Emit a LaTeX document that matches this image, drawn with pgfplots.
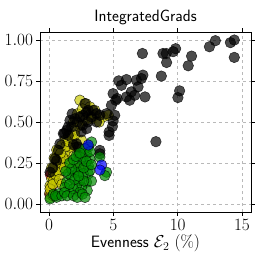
\documentclass[border=0pt]{standalone}
\usepackage{pgfplots}
\pgfplotsset{compat=1.18}
\usepackage{pgfplotstable}
\definecolor{myyellow}{rgb}{0.78,0.78,0}
\definecolor{mygreen}{rgb}{0,0.55,0}
\pgfplotstableread{
x y
0.10 0.18
0.05 0.06
2.30 0.22
0.15 0.10
}\redpts
\pgfplotstableread{
x y
2.40 0.633
2.87 0.612
3.18 0.592
3.56 0.541
4.21 0.531
4.60 0.541
3.05 0.541
2.79 0.510
2.40 0.480
2.01 0.449
1.63 0.418
1.24 0.388
0.98 0.357
0.72 0.316
0.59 0.286
0.72 0.245
0.46 0.235
0.34 0.194
0.21 0.153
0.08 0.071
0.08 0.112
0.59 0.133
0.98 0.204
1.37 0.265
1.76 0.306
2.14 0.347
2.53 0.388
1.24 0.316
1.63 0.347
0.85 0.286
1.50 0.245
0.34 0.143
0.08 0.092
3.56 0.571
0.30 0.120
0.50 0.180
0.70 0.200
0.90 0.250
1.10 0.280
1.30 0.350
1.50 0.380
1.80 0.400
2.00 0.420
0.40 0.280
0.60 0.330
0.90 0.310
1.20 0.220
0.20 0.220
1.90 0.500
2.20 0.550
2.60 0.580
3.30 0.520
3.90 0.500
0.10 0.040
0.30 0.050
0.80 0.150
1.00 0.120
}\yellowpts
\pgfplotstableread{
x y
12.93 0.996
12.47 0.959
14.10 0.984
14.40 1.000
14.40 0.894
11.08 0.902
10.82 0.843
9.84 0.947
9.65 0.929
9.11 0.918
8.86 0.918
9.14 0.863
7.26 0.918
8.73 0.780
10.15 0.690
10.02 0.649
8.31 0.380
7.46 0.653
7.30 0.786
7.18 0.765
6.02 0.759
5.42 0.751
5.63 0.724
6.79 0.755
6.92 0.714
6.66 0.663
6.40 0.684
6.02 0.653
6.27 0.633
5.29 0.643
4.98 0.673
5.19 0.633
4.85 0.602
5.11 0.541
4.98 0.506
4.93 0.473
4.67 0.439
4.67 0.418
3.95 0.306
3.95 0.327
4.47 0.551
3.95 0.541
3.69 0.551
3.43 0.571
3.05 0.571
2.79 0.612
2.66 0.541
2.40 0.531
2.01 0.520
1.63 0.510
1.37 0.449
1.11 0.429
0.85 0.367
0.72 0.327
0.46 0.276
0.08 0.194
2.14 0.367
2.27 0.347
1.50 0.418
1.76 0.469
2.92 0.459
0.59 0.265
1.80 0.550
2.20 0.500
2.60 0.480
3.00 0.500
3.30 0.530
1.50 0.470
1.20 0.430
2.90 0.560
3.70 0.500
0.30 0.220
2.50 0.440
1.90 0.360
2.30 0.300
}\blackpts
\pgfplotstableread{
x y
0.08 0.031
0.34 0.060
0.72 0.061
1.37 0.133
1.63 0.071
1.76 0.163
2.01 0.194
2.40 0.224
2.66 0.265
2.92 0.306
3.05 0.347
3.31 0.378
3.05 0.235
3.05 0.184
2.92 0.133
2.97 0.082
2.53 0.102
2.40 0.143
2.14 0.112
1.89 0.092
1.50 0.184
2.14 0.245
2.53 0.286
2.79 0.337
2.27 0.194
2.66 0.184
3.18 0.276
3.18 0.204
4.47 0.194
4.34 0.173
3.95 0.286
1.24 0.102
0.59 0.041
2.40 0.071
1.76 0.214
0.50 0.050
1.00 0.050
1.20 0.070
1.40 0.050
1.90 0.050
2.20 0.040
2.60 0.060
1.30 0.200
1.60 0.250
1.90 0.270
2.10 0.290
2.40 0.310
2.70 0.220
2.90 0.260
3.20 0.320
3.30 0.240
3.30 0.140
2.70 0.140
2.00 0.150
1.60 0.120
2.30 0.170
2.80 0.040
}\greenpts
\pgfplotstableread{
x y
3.05 0.360
4.09 0.238
3.96 0.207
}\bluepts
\begin{document}
\begin{tikzpicture}
\pgfplotsset{pt/.style={only marks, mark=*, mark size=5.3bp,
     mark options={draw=black, fill=#1, draw opacity=0.75, fill opacity=0.7, line width=0.5bp}}}
\begin{axis}[
  scale only axis,
  width=211bp, height=180bp,
  xmin=-0.7, xmax=15.7,
  ymin=-0.049, ymax=1.049,
  xtick={0,5,10,15},
  ytick={0,0.25,0.5,0.75,1.0},
  yticklabel style={/pgf/number format/.cd,fixed,fixed zerofill,precision=2},
  ticklabel style={font=\fontsize{17}{20}\selectfont},
  grid=major,
  major grid style={dashed, gray!55, line width=0.6bp},
  tick align=outside,
  major tick length=3.5bp,
  tick style={black, line width=0.6bp},
  axis line style={line width=0.8bp},
  title={\sffamily IntegratedGrads},
  title style={font=\fontsize{16.5}{19}\selectfont, yshift=-2bp},
  xlabel={\sffamily Evenness $\mathcal{E}_2$ $(\%)$},
  xlabel style={font=\fontsize{16.5}{19}\selectfont, yshift=2bp},
]
\addplot[pt=red] table {\redpts};
\addplot[pt=myyellow] table {\yellowpts};
\addplot[pt=black] table {\blackpts};
\addplot[pt=mygreen] table {\greenpts};
\addplot[pt=blue] table {\bluepts};
\end{axis}
\pgfresetboundingbox
\path[use as bounding box] (current axis.south west) ++(-40bp,-59bp) rectangle ++(268bp,271bp);
\end{tikzpicture}
\end{document}
